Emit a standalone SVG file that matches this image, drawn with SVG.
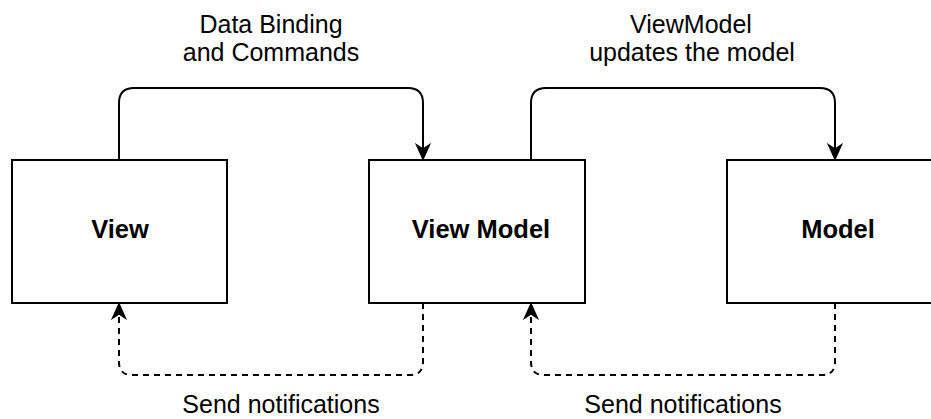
<svg xmlns="http://www.w3.org/2000/svg" width="931" height="419" viewBox="0 0 931 419">
  <style>
    .box { fill: #ffffff; stroke: #000000; stroke-width: 2; }
    .title { font-family: "Liberation Sans", Arial, sans-serif; font-size: 25.5px; font-weight: bold; fill: #000000; text-anchor: middle; }
    .label { font-family: "Liberation Sans", Arial, sans-serif; font-size: 25px; fill: #000000; text-anchor: middle; }
    .flow { fill: none; stroke: #000000; stroke-width: 2; }
    .notify { fill: none; stroke: #000000; stroke-width: 2; stroke-dasharray: 6 5; }
  </style>
  <defs>
    <marker id="arrowBig" viewBox="0 0 20 20" refX="19" refY="10" markerWidth="18" markerHeight="18" markerUnits="userSpaceOnUse" orient="auto">
      <path d="M0,1 L20,10 L0,19 L6,10 Z" fill="#000000"/>
    </marker>
  </defs>

  <rect width="931" height="419" fill="#ffffff"/>

  <g id="connectors">
    <!-- View -> View Model : Data Binding and Commands -->
    <path class="flow" d="M119,160 V103 Q119,88 134,88 H408 Q423,88 423,103 V160" marker-end="url(#arrowBig)"/>
    <!-- View Model -> Model : updates -->
    <path class="flow" d="M531,160 V103 Q531,88 546,88 H820 Q835,88 835,103 V160" marker-end="url(#arrowBig)"/>
    <!-- View Model -> View : notifications -->
    <path class="notify" d="M423,303 V362 Q423,375 410,375 H132 Q119,375 119,362 V303" marker-end="url(#arrowBig)"/>
    <!-- Model -> View Model : notifications -->
    <path class="notify" d="M835,303 V362 Q835,375 822,375 H544 Q531,375 531,362 V303" marker-end="url(#arrowBig)"/>

    <text class="label" x="271" y="33">Data Binding</text>
    <text class="label" x="271" y="61">and Commands</text>
    <text class="label" x="691" y="33">ViewModel</text>
    <text class="label" x="692" y="61">updates the model</text>
    <text class="label" x="281" y="413">Send notifications</text>
    <text class="label" x="683" y="413">Send notifications</text>
  </g>

  <g id="view">
    <rect class="box" x="12" y="160" width="215" height="143"/>
    <text class="title" x="120" y="238">View</text>
  </g>

  <g id="view-model">
    <rect class="box" x="369" y="160" width="216" height="143"/>
    <text class="title" x="481" y="238">View Model</text>
  </g>

  <g id="model">
    <rect class="box" x="727" y="160" width="216" height="143"/>
    <text class="title" x="838" y="238">Model</text>
  </g>
</svg>
